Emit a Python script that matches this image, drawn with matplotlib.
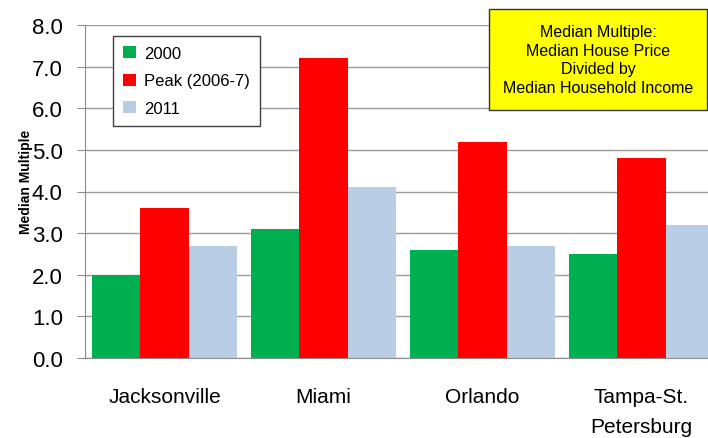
import numpy as np
import matplotlib
matplotlib.use("Agg")
import matplotlib.pyplot as plt
import matplotlib.patches as mpatches

cities = ["Jacksonville", "Miami", "Orlando", "Tampa-St.\nPetersburg"]
series_names = ["2000", "Peak (2006-7)", "2011"]
vals_2000 = [2.0, 3.1, 2.6, 2.5]
vals_peak = [3.6, 7.2, 5.2, 4.8]
vals_2011 = [2.7, 4.1, 2.7, 3.2]
yticks = [0, 1, 2, 3, 4, 5, 6, 7, 8]

colors = ["#00B050", "#FF0000", "#B9CDE5"]

plt.rcParams['font.family'] = ['Liberation Sans', 'DejaVu Sans']

fig = plt.figure(figsize=(7.08, 4.39), dpi=100)
# axes runs slightly past the right edge, like the original
ax = fig.add_axes([85/708, 1 - 359/439, 636/708, (359 - 26)/439])

x = np.arange(len(cities))
w = 0.302
handles = []
for i, (vals, name) in enumerate(zip([vals_2000, vals_peak, vals_2011], series_names)):
    b = ax.bar(x + (i - 1) * w, vals, width=w, color=colors[i], zorder=2, label=name)
    handles.append(b)

ax.set_xlim(-0.5, len(cities) - 0.5)
ax.set_ylim(0, 8)
ax.set_yticks(yticks)
ax.set_yticklabels(["%.1f" % t for t in yticks], fontsize=16)
ax.set_xticks(x)
ax.set_xticklabels(cities, fontsize=15, linespacing=1.7)
ax.tick_params(axis="x", length=0, pad=21)
ax.tick_params(axis="y", length=6, color="#8c8c8c", pad=10)
ax.yaxis.grid(True, color="#9c9c9c", linewidth=1, zorder=0)
ax.set_axisbelow(True)
for s in ["top", "right"]:
    ax.spines[s].set_visible(False)
ax.spines["left"].set_color("#8c8c8c")
ax.spines["bottom"].set_color("#8c8c8c")
ax.set_ylabel("Median Multiple", fontsize=10, fontweight="bold")
ax.yaxis.set_label_coords((33 - 85) / 636, (359 - 182) / 333)

leg = ax.legend(handles=handles, loc="upper left", bbox_to_anchor=(28/636, (359 - 37)/333),
                fontsize=12, frameon=True, fancybox=False, handlelength=0.75, handleheight=0.75,
                handletextpad=0.5, labelspacing=0.75, borderpad=0.6, borderaxespad=0)
leg.get_frame().set_edgecolor("#404040")
leg.get_frame().set_linewidth(1)
leg.get_frame().set_facecolor("white")
leg.get_frame().set_alpha(1)

# yellow note box
box = mpatches.Rectangle((489/708, 1 - 111/439), 218/708, 101/439, transform=fig.transFigure,
                         facecolor="#FFFF00", edgecolor="#333333", linewidth=1, zorder=5)
fig.patches.append(box)
fig.text((489 + 218/2)/708, 1 - 60.5/439,
         "Median Multiple:\nMedian House Price\nDivided by\nMedian Household Income",
         ha="center", va="center", fontsize=11.5, linespacing=1.3, zorder=6)

fig.savefig("out.png", dpi=100)
